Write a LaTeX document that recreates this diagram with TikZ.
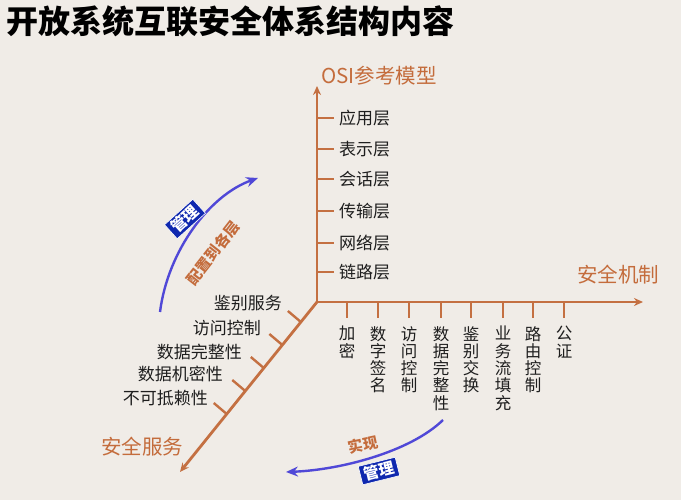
\documentclass[tikz,border=0pt]{standalone}
\usepackage{fontspec}
\setmainfont{Noto Sans CJK SC}
\usetikzlibrary{arrows.meta,calc}
\definecolor{bg}{RGB}{240,236,231}
\definecolor{axiscol}{RGB}{196,112,66}
\definecolor{otext}{RGB}{196,108,60}
\definecolor{arcblue}{RGB}{80,72,215}
\definecolor{boxblue}{RGB}{15,40,175}
\definecolor{lbl}{RGB}{30,30,30}
\tikzset{
  axisline/.style={draw=axiscol, line width=2.8pt, -{Stealth[length=9pt,width=8pt]}},
  tickline/.style={draw=axiscol, line width=2.4pt},
  lbltext/.style={text=lbl, inner sep=0pt, font=\fontsize{17}{17}\selectfont},
  vlbl/.style={text=lbl, inner sep=0pt, align=center, anchor=north, font=\fontsize{16.5}{17.3}\selectfont},
  axtitle/.style={text=otext, inner sep=0pt, font=\fontsize{20.5}{21}\selectfont},
  arcline/.style={draw=arcblue, line width=2.4pt, -{Stealth[length=12pt,width=10pt,inset=4pt]}},
  bluebox/.style={fill=boxblue, draw=white, line width=0.6pt, text=white, inner xsep=3.5pt, inner ysep=2pt, font=\fontsize{15.5}{15.5}\selectfont\bfseries},
  orangetag/.style={text=otext, inner sep=0pt, font=\fontsize{15}{15}\selectfont\bfseries},
}
\begin{document}
\begin{tikzpicture}[x=1pt,y=-1pt]
\fill[bg] (0,0) rectangle (681,500);
\useasboundingbox (0,0) rectangle (681,500);

% title
\node[anchor=west, inner sep=0pt, text=black, font=\fontsize{32}{32}\selectfont\bfseries] (title) at (6,21) {开放系统互联安全体系结构内容};

% axes
\coordinate (O) at (317,302);
\coordinate (Vt) at (317,86);
\coordinate (Ht) at (643,302);
\coordinate (Dt) at (180,472);
\draw[axisline] (O) -- (Vt);
\draw[axisline] (O) -- (Ht);
\draw[axisline] (O) -- (Dt);

% axis titles
\node[axtitle, anchor=west] (osi) at (321,76) {OSI参考模型};
\node[axtitle, anchor=west] (mech) at (577,275) {安全机制};
\node[axtitle, anchor=west] (serv) at (101,447) {安全服务};

% vertical axis ticks and labels
\foreach \y/\t [count=\i] in {118/应用层,149/表示层,179/会话层,211/传输层,243/网络层,272/链路层}{
  \draw[tickline] (317,\y) -- (334,\y);
  \node[lbltext, anchor=west] (v\i) at (339,\y) {\t};
}

% horizontal axis ticks and labels
\foreach \x/\t [count=\i] in {347/加\\密,378/数\\字\\签\\名,409/访\\问\\控\\制,441/数\\据\\完\\整\\性,471/鉴\\别\\交\\换,503/业\\务\\流\\填\\充,533/路\\由\\控\\制,564/公\\证}{
  \draw[tickline] (\x,302) -- (\x,318);
  \node[vlbl] (h\i) at (\x,326) {\t};
}

% diagonal axis ticks and labels
\foreach \yy [count=\i] in {322,345,368,391,414}{
  \pgfmathsetmacro{\tt}{(\yy-302)/170}
  \draw[tickline] ($(O)!\tt!(Dt)$) -- ++(-13,-11);
}
\node[lbltext, anchor=east] (d1) at (282,303) {鉴别服务};
\node[lbltext, anchor=east] (d2) at (261,328) {访问控制};
\node[lbltext, anchor=east] (d3) at (242,352) {数据完整性};
\node[lbltext, anchor=east] (d4) at (223,374) {数据机密性};
\node[lbltext, anchor=east] (d5) at (208,398) {不可抵赖性};

% upper blue arc
\coordinate (ua) at (160,312);
\coordinate (ub) at (258,178);
\draw[arcline] (ua) .. controls (168,250) and (210,195) .. (ub);
\node[bluebox, rotate=42] (mgr1) at (185,219) {管理};
\node[orangetag, rotate=52] (cfg) at (213,253) {配置到各层};

% lower blue arc
\coordinate (la) at (443,420);
\coordinate (lb) at (286,472);
\draw[arcline] (la) .. controls (410,452) and (340,470) .. (lb);
\node[orangetag, rotate=12] (impl) at (363,445) {实现};
\node[bluebox, rotate=14] (mgr2) at (379,471) {管理};
\end{tikzpicture}
\end{document}
